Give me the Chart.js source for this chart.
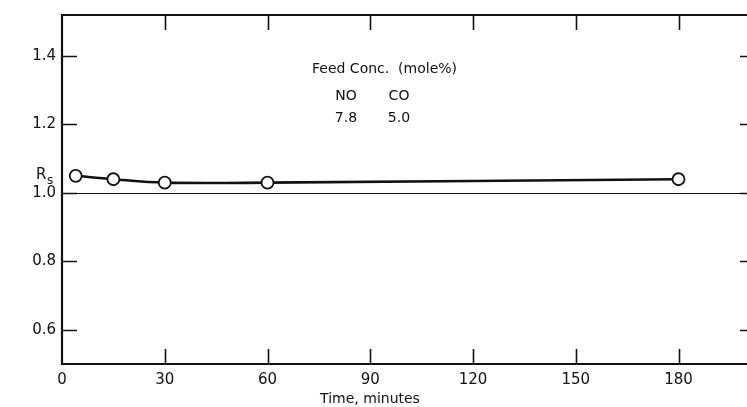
<!DOCTYPE html>
<html>
<head>
<meta charset="utf-8">
<title>Rs vs time</title>
<script src="https://cdn.jsdelivr.net/npm/chart.js@4.4.1/dist/chart.umd.min.js"></script>
<style>
  html, body { margin: 0; padding: 0; background: #fff; }
  #wrap { width: 747px; height: 407px; position: relative; }
</style>
</head>
<body>
<div id="wrap"><canvas id="rsChart"></canvas></div>
<script>
// Rs measured over time (minutes)
const times = [4, 15, 30, 60, 180];
const rsValues = [1.05, 1.04, 1.03, 1.03, 1.04];

// axis ticks
const xTicks = [0, 30, 60, 90, 120, 150, 180];
const yTicks = [0.6, 0.8, 1.0, 1.2, 1.4];

// feed composition note
const feedTitle = 'Feed Conc.  (mole%)';
const feedSpecies = ['NO', 'CO'];
const feedConc = ['7.8', '5.0'];

const FONT = '"DejaVu Sans", sans-serif';
const INK = '#111';

// draws the frame, inward ticks, the Rs = 1 line and the loose text
const framePlugin = {
    id: 'frame',
    beforeDatasetsDraw(chart) {
        const { ctx, chartArea: a, scales: { x, y } } = chart;
        ctx.save();
        ctx.strokeStyle = INK;
        ctx.lineCap = 'butt';

        // left axis
        ctx.lineWidth = 2.2;
        ctx.beginPath();
        ctx.moveTo(a.left, a.top - 1);
        ctx.lineTo(a.left, a.bottom + 1);
        ctx.stroke();

        // bottom and top axes
        ctx.lineWidth = 1.8;
        ctx.beginPath();
        ctx.moveTo(a.left, a.bottom);
        ctx.lineTo(a.right, a.bottom);
        ctx.moveTo(a.left, a.top);
        ctx.lineTo(a.right, a.top);
        ctx.stroke();

        // x ticks, bottom pointing up, top pointing down
        ctx.lineWidth = 1.6;
        ctx.beginPath();
        xTicks.forEach(v => {
            if (v === 0) return;
            const px = Math.round(x.getPixelForValue(v)) + 0.5;
            ctx.moveTo(px, a.bottom);
            ctx.lineTo(px, a.bottom - 15);
            ctx.moveTo(px, a.top);
            ctx.lineTo(px, a.top + 15);
        });
        ctx.stroke();

        // y ticks, left pointing right, right pointing left
        ctx.beginPath();
        yTicks.forEach(v => {
            const py = Math.round(y.getPixelForValue(v)) + 0.5;
            ctx.moveTo(a.left, py);
            ctx.lineTo(a.left + 15, py);
            ctx.moveTo(a.right, py);
            ctx.lineTo(a.right - 7, py);
        });
        ctx.stroke();

        // Rs = 1.0 reference
        const y1 = Math.round(y.getPixelForValue(1.0)) + 0.5;
        ctx.lineWidth = 1.2;
        ctx.beginPath();
        ctx.moveTo(a.left, y1);
        ctx.lineTo(a.right, y1);
        ctx.stroke();

        // y axis label R with subscript s
        ctx.fillStyle = INK;
        ctx.textBaseline = 'alphabetic';
        ctx.textAlign = 'left';
        ctx.font = '15px ' + FONT;
        ctx.fillText('R', 36, 179);
        ctx.font = '12px ' + FONT;
        ctx.fillText('s', 47, 184);

        // x axis title
        ctx.font = '14px ' + FONT;
        ctx.textAlign = 'center';
        ctx.fillText('Time, minutes', 370, 403);

        // feed concentration note
        ctx.font = '14px ' + FONT;
        ctx.textAlign = 'left';
        ctx.fillText(feedTitle, 312, 73);
        ctx.textAlign = 'center';
        const cols = [346, 399];
        feedSpecies.forEach((s, i) => ctx.fillText(s, cols[i], 100));
        feedConc.forEach((c, i) => ctx.fillText(c, cols[i], 122));

        ctx.restore();
    }
};

const ctx = document.getElementById('rsChart').getContext('2d');
const rsChart = new Chart(ctx, {
    type: 'line',
    data: {
        datasets: [{
            label: 'Rs',
            data: times.map((t, i) => ({ x: t, y: rsValues[i] })),
            borderColor: INK,
            borderWidth: 2.6,
            tension: 0.35,
            pointRadius: 6,
            pointBorderWidth: 1.8,
            pointBackgroundColor: '#fff',
            pointBorderColor: INK,
        }],
    },
    options: {
        responsive: true,
        maintainAspectRatio: false,
        devicePixelRatio: 1,
        animation: false,
        layout: {
            autoPadding: false,
            padding: { top: 15, right: 0, left: 0, bottom: 0 },
        },
        plugins: {
            legend: { display: false },
            tooltip: { enabled: false },
        },
        scales: {
            x: {
                type: 'linear',
                min: 0,
                max: 200,
                grid: { display: false, drawTicks: false },
                border: { display: false },
                afterBuildTicks: scale => { scale.ticks = xTicks.map(v => ({ value: v })); },
                afterFit: scale => {
                    scale.height = 43;
                    scale.paddingLeft = 0;
                    scale.paddingRight = 0;
                },
                ticks: {
                    padding: 7,
                    color: INK,
                    font: { family: FONT, size: 15 },
                    maxRotation: 0,
                },
            },
            y: {
                min: 0.5,
                max: 1.52,
                grid: { display: false, drawTicks: false },
                border: { display: false },
                afterBuildTicks: scale => { scale.ticks = yTicks.map(v => ({ value: v })); },
                afterFit: scale => { scale.width = 62; },
                ticks: {
                    padding: 6,
                    color: INK,
                    font: { family: FONT, size: 15 },
                    callback: v => Number(v).toFixed(1),
                },
            },
        },
    },
    plugins: [framePlugin],
});
</script>
</body>
</html>
